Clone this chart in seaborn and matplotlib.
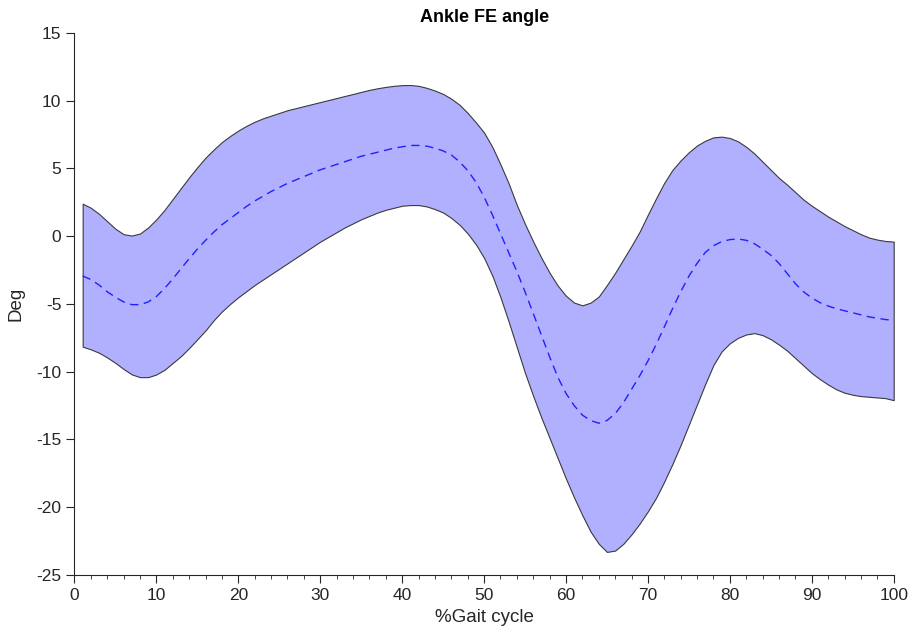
"""
plot.py

Ankle flexion/extension angle over the gait cycle: mean (dashed) with
the +/- band shaded between upper and lower bounds.
"""

import matplotlib
matplotlib.use('Agg')
import matplotlib.pyplot as plt
from matplotlib.ticker import MultipleLocator
import pandas as pd
import seaborn as sns

# % of gait cycle, one sample per percent
GAIT = list(range(1, 101))

UPPER = [2.40, 2.10, 1.65, 1.10, 0.55, 0.15, 0.05, 0.20, 0.65, 1.25,
         1.95, 2.75, 3.55, 4.35, 5.10, 5.80, 6.40, 6.95, 7.40, 7.80,
         8.15, 8.45, 8.70, 8.90, 9.10, 9.30, 9.45, 9.60, 9.75, 9.90,
         10.05, 10.20, 10.35, 10.50, 10.65, 10.80, 10.92, 11.02, 11.10, 11.15,
         11.16, 11.10, 10.95, 10.75, 10.50, 10.15, 9.70, 9.10, 8.40, 7.65,
         6.60, 5.30, 3.90, 2.30, 0.90, -0.40, -1.60, -2.70, -3.65, -4.40,
         -4.90, -5.10, -4.90, -4.45, -3.60, -2.70, -1.70, -0.70, 0.35, 1.60,
         2.80, 3.95, 4.90, 5.60, 6.20, 6.70, 7.05, 7.30, 7.35, 7.25,
         7.00, 6.60, 6.10, 5.50, 4.90, 4.30, 3.80, 3.25, 2.70, 2.25,
         1.85, 1.45, 1.10, 0.75, 0.45, 0.15, -0.10, -0.25, -0.35, -0.40]

MEAN = [-2.93, -3.20, -3.60, -4.10, -4.50, -4.85, -5.05, -5.05, -4.85, -4.45,
        -3.85, -3.15, -2.40, -1.65, -0.95, -0.30, 0.30, 0.85, 1.30, 1.75,
        2.20, 2.60, 2.95, 3.30, 3.60, 3.90, 4.15, 4.40, 4.65, 4.90,
        5.10, 5.30, 5.50, 5.70, 5.90, 6.05, 6.20, 6.35, 6.50, 6.60,
        6.70, 6.70, 6.65, 6.50, 6.30, 6.00, 5.50, 4.85, 4.00, 2.90,
        1.60, 0.20, -1.20, -2.60, -4.10, -5.70, -7.30, -8.90, -10.40, -11.60,
        -12.50, -13.20, -13.60, -13.80, -13.60, -13.10, -12.30, -11.30, -10.30, -9.20,
        -8.00, -6.70, -5.35, -4.10, -2.95, -2.00, -1.20, -0.70, -0.40, -0.25,
        -0.20, -0.30, -0.55, -0.95, -1.40, -2.00, -2.75, -3.50, -4.10, -4.55,
        -4.90, -5.15, -5.35, -5.50, -5.65, -5.80, -5.95, -6.05, -6.15, -6.20]

LOWER = [-8.15, -8.35, -8.60, -8.95, -9.35, -9.80, -10.20, -10.40, -10.40, -10.20,
         -9.85, -9.35, -8.85, -8.25, -7.60, -6.95, -6.20, -5.55, -5.00, -4.50,
         -4.05, -3.60, -3.20, -2.80, -2.40, -2.00, -1.60, -1.20, -0.80, -0.40,
         -0.05, 0.30, 0.65, 0.95, 1.25, 1.50, 1.75, 1.95, 2.10, 2.25,
         2.30, 2.30, 2.20, 2.00, 1.75, 1.35, 0.85, 0.20, -0.60, -1.60,
         -2.90, -4.50, -6.30, -8.20, -10.10, -11.80, -13.40, -14.90, -16.40, -17.90,
         -19.30, -20.60, -21.80, -22.70, -23.30, -23.20, -22.70, -22.00, -21.20, -20.30,
         -19.30, -18.10, -16.80, -15.40, -13.90, -12.40, -10.90, -9.50, -8.50, -7.90,
         -7.50, -7.25, -7.15, -7.30, -7.60, -8.00, -8.45, -9.00, -9.55, -10.10,
         -10.55, -10.95, -11.30, -11.55, -11.70, -11.80, -11.85, -11.90, -11.95, -12.10]

TITLE = 'Ankle FE angle'
XLABEL = '%Gait cycle'
YLABEL = 'Deg'

sns.set_style('ticks')
plt.rcParams['font.family'] = ['Liberation Sans', 'DejaVu Sans']
plt.rcParams['axes.unicode_minus'] = False

df = pd.DataFrame({'gait': GAIT, 'upper': UPPER, 'mean': MEAN, 'lower': LOWER})

fig = plt.figure(figsize=(9.15, 6.43), dpi=100)
ax = fig.add_axes([0.0814, 0.1058, 0.8953, 0.8429])

# shaded band with thin black outline (like MATLAB fill)
ax.fill_between(df['gait'], df['lower'], df['upper'],
                facecolor='#b0b0ff', edgecolor='#3a3a3a', linewidth=0.8)
sns.lineplot(data=df, x='gait', y='mean', ax=ax, color='#2020ff',
             linewidth=1.0, linestyle=(0, (6, 4)))

ax.set_xlim(0, 100)
ax.set_ylim(-25, 15)
ax.xaxis.set_major_locator(MultipleLocator(10))
ax.xaxis.set_minor_locator(MultipleLocator(2))
ax.yaxis.set_major_locator(MultipleLocator(5))

sns.despine(ax=ax)
for side in ('left', 'bottom'):
    ax.spines[side].set_color('#262626')
    ax.spines[side].set_linewidth(0.8)
ax.tick_params(axis='both', which='major', length=6, width=0.8,
               color='#262626', labelcolor='#262626', labelsize=12.5)
ax.tick_params(axis='x', which='minor', length=3, width=0.6, color='#262626')

ax.set_xlabel(XLABEL, fontsize=13.5, color='#262626', labelpad=4)
ax.set_ylabel(YLABEL, fontsize=13.5, color='#262626', labelpad=8)
ax.set_title(TITLE, fontsize=13, fontweight='bold', color='black', pad=8)

fig.savefig('out.png', dpi=100)
